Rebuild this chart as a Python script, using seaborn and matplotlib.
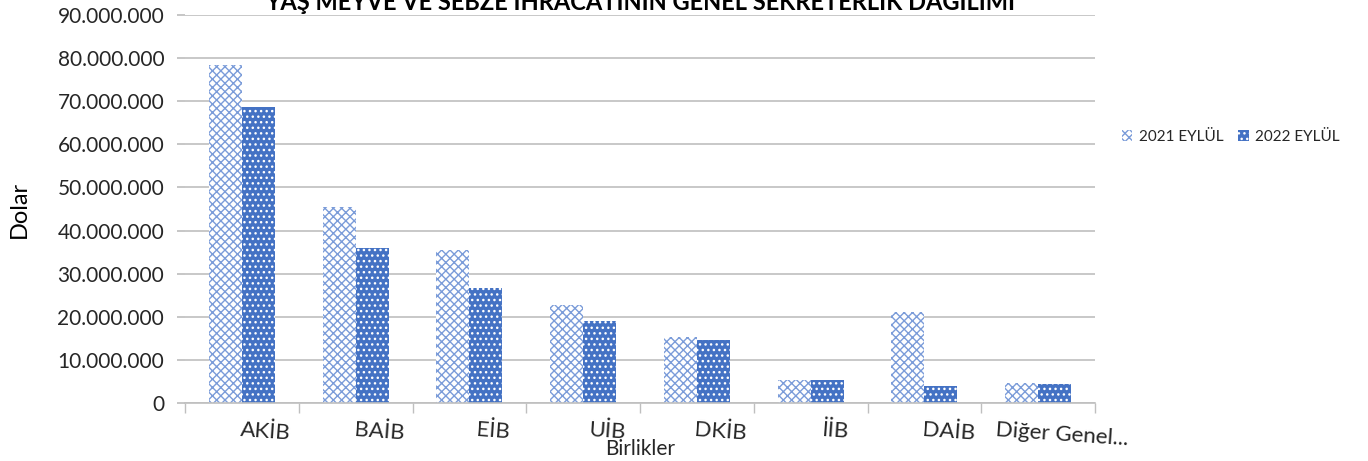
import pandas as pd
import matplotlib
matplotlib.use("Agg")
import matplotlib.pyplot as plt
import matplotlib.transforms as mtransforms
from matplotlib.patches import Patch
from matplotlib.ticker import FuncFormatter
import seaborn as sns

# -------------------------------
# data
# -------------------------------
birlikler = ["AKİB", "BAİB", "EİB", "UİB", "DKİB", "İİB", "DAİB", "Diğer Genel..."]
eylul_2021 = [78400000, 45500000, 35500000, 22700000, 15300000, 5300000, 21100000, 4600000]
eylul_2022 = [68700000, 36000000, 26700000, 19000000, 14600000, 5300000, 3900000, 4400000]
yillar = ["2021 EYLÜL", "2022 EYLÜL"]

df = pd.DataFrame({
    "birlik": birlikler * 2,
    "dolar": eylul_2021 + eylul_2022,
    "yil": [yillar[0]] * len(birlikler) + [yillar[1]] * len(birlikler),
})

BLUE = "#4472C4"
sns.set_theme(style="white")
plt.rcParams['font.family'] = ['Lato', 'DejaVu Sans']
plt.rcParams['hatch.linewidth'] = 1.0

fig = plt.figure(figsize=(13.68, 4.61), dpi=100)
ax = fig.add_axes([185 / 1368, 58 / 461, 910 / 1368, 388 / 461])

sns.barplot(data=df, x="birlik", y="dolar", hue="yil", palette=[BLUE, BLUE],
            width=0.58, ax=ax, legend=False, saturation=1)

# pattern fills like the Excel chart
for bar in ax.containers[0]:
    bar.set_facecolor("white")
    bar.set_edgecolor("#7b9cd9")
    bar.set_hatch("xxxx")
    bar.set_linewidth(0)
for bar in ax.containers[1]:
    bar.set_facecolor(BLUE)
    bar.set_edgecolor("white")
    bar.set_hatch("...")
    bar.set_linewidth(0)

ax.set_ylim(0, 90000000)
ax.set_xlim(-0.5, len(birlikler) - 0.5)
ax.set_yticks(range(0, 90000001, 10000000))
ax.yaxis.set_major_formatter(FuncFormatter(lambda v, p: f"{int(v):,}".replace(",", ".")))
ax.grid(axis="y", color="#bfbfbf", linewidth=1.2)
ax.set_axisbelow(True)
for s in ["top", "right", "left"]:
    ax.spines[s].set_visible(False)
ax.spines["bottom"].set_color("#bfbfbf")
ax.spines["bottom"].set_linewidth(1.2)

ax.tick_params(axis="y", labelsize=15, colors="#262626", length=6, color="#bfbfbf", left=True, pad=9)
ax.set_xticks([i - 0.5 for i in range(len(birlikler) + 1)], minor=True)
ax.tick_params(axis="x", which="minor", length=7, color="#bfbfbf", bottom=True)
ax.tick_params(axis="x", which="major", length=0, labelsize=16, colors="#262626", pad=12)
offset = mtransforms.ScaledTranslation(24 / 100, 0, fig.dpi_scale_trans)
for lab in ax.get_xticklabels():
    lab.set_rotation(-4)
    lab.set_transform(lab.get_transform() + offset)

ax.set_xlabel("Birlikler", fontsize=15, color="#262626", labelpad=-7)
ax.set_ylabel("Dolar", fontsize=17, color="#000000", labelpad=20)

fig.text(0.468, 1.0, "YAŞ MEYVE VE SEBZE İHRACATININ GENEL SEKRETERLİK DAĞILIMI",
         ha="center", va="center", fontsize=17, fontweight="bold", color="#000000")

handles = [Patch(facecolor="white", edgecolor="#7b9cd9", hatch="xxxx", linewidth=0),
           Patch(facecolor=BLUE, edgecolor="white", hatch="...", linewidth=0)]
fig.legend(handles, yillar, loc="center left", bbox_to_anchor=(1108 / 1368, 1 - 137 / 461),
           ncol=2, frameon=False, fontsize=11, handlelength=0.7, handleheight=0.7,
           handletextpad=0.4, columnspacing=1.0)

fig.savefig("out.png", dpi=100)
